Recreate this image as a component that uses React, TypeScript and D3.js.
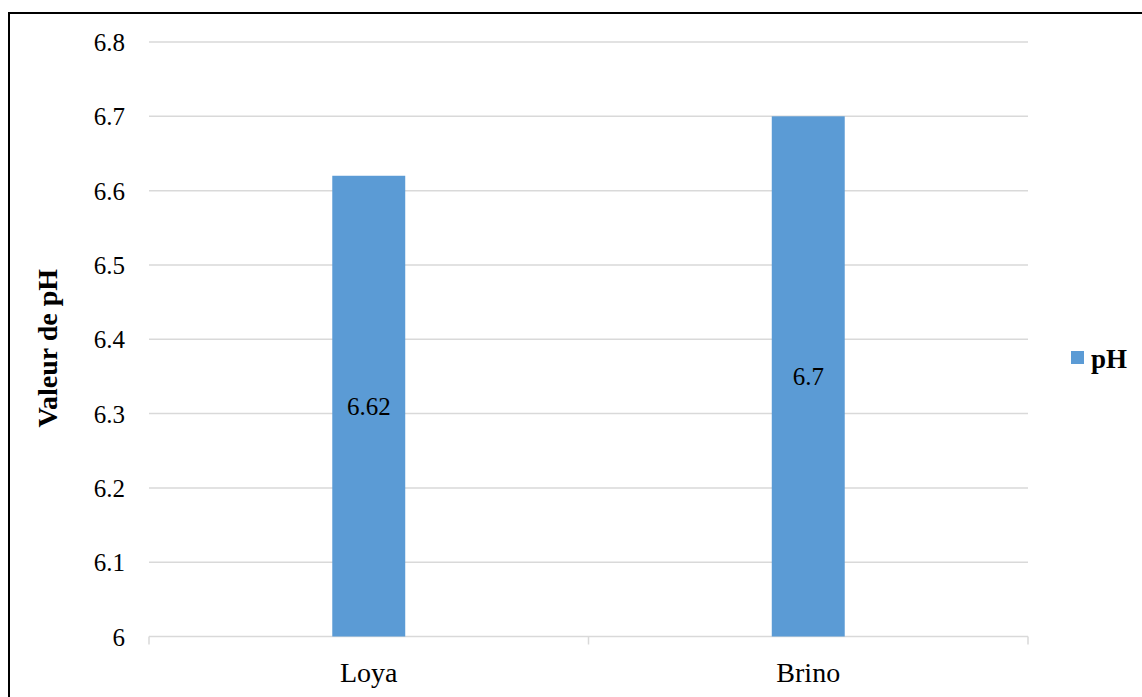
import React from "react";
import * as d3 from "d3";

// pH values measured at each site
const sites: string[] = ["Loya", "Brino"];
const phValues: number[] = [6.62, 6.7];
const yTicks: number[] = [6, 6.1, 6.2, 6.3, 6.4, 6.5, 6.6, 6.7, 6.8];
const seriesName = "pH";
const axisTitle = "Valeur de pH";

const W = 1142;
const H = 697;
const BAR = "#5b9bd5";
const GRID = "#d9d9d9";
const FONT = "'Liberation Serif', 'Times New Roman', 'DejaVu Serif', serif";
const txt = { fontFamily: FONT };

export default function App() {
  const left = 149;
  const right = 1028;
  const top = 42;
  const bottom = 636.5;

  const x = d3.scaleBand<string>().domain(sites).range([left, right]).paddingInner(0.834).paddingOuter(0.417);
  const y = d3.scaleLinear().domain([6, 6.8]).range([bottom, top]);
  const step = x.step();
  const catEdges = d3.range(sites.length + 1).map((i) => left + i * step);

  return (
    <div style={{ position: "fixed", left: 0, top: 0, width: W, height: H, background: "#fff" }}>
      <svg width={W} height={H} style={{ display: "block" }}>
        <rect x={0} y={0} width={W} height={H} fill="#fff" />
        {/* outer frame */}
        <rect x={9} y={13} width={W + 20} height={H + 20} fill="none" stroke="#000" strokeWidth={2} />

        {/* horizontal grid and y tick labels */}
        {yTicks.map((t) => (
          <g key={t}>
            <line x1={left} x2={right} y1={y(t)} y2={y(t)} stroke={GRID} strokeWidth={1.5} />
            <text x={125} y={y(t)} dy="0.36em" textAnchor="end" fontSize={25} fill="#000" style={txt}>
              {d3.format("~g")(t)}
            </text>
          </g>
        ))}

        {/* category tick marks */}
        {catEdges.map((cx, i) => (
          <line key={i} x1={cx} x2={cx} y1={bottom} y2={bottom + 8} stroke={GRID} strokeWidth={1.5} />
        ))}

        {/* bars */}
        {sites.map((s, i) => (
          <rect
            key={s}
            x={x(s)}
            y={y(phValues[i])}
            width={x.bandwidth()}
            height={bottom - y(phValues[i])}
            fill={BAR}
          />
        ))}

        {/* value labels centred in bars */}
        {sites.map((s, i) => (
          <text
            key={s}
            x={(x(s) as number) + x.bandwidth() / 2}
            y={(y(phValues[i]) + bottom) / 2}
            dy="0.36em"
            textAnchor="middle"
            fontSize={25}
            fill="#000"
            style={txt}
          >
            {phValues[i]}
          </text>
        ))}

        {/* category labels */}
        {sites.map((s) => (
          <text
            key={s}
            x={(x(s) as number) + x.bandwidth() / 2}
            y={682}
            textAnchor="middle"
            fontSize={28}
            fill="#000"
            style={txt}
          >
            {s}
          </text>
        ))}

        {/* y axis title */}
        <text
          transform={`translate(57, ${(top + bottom) / 2 + 9}) rotate(-90)`}
          textAnchor="middle"
          fontSize={28}
          fontWeight="bold"
          fill="#000"
          style={txt}
        >
          {axisTitle}
        </text>

        {/* legend */}
        <rect x={1071} y={351} width={13} height={13} fill={BAR} />
        <text x={1091} y={368} fontSize={27} fontWeight="bold" fill="#000" style={txt}>
          {seriesName}
        </text>
      </svg>
    </div>
  );
}
